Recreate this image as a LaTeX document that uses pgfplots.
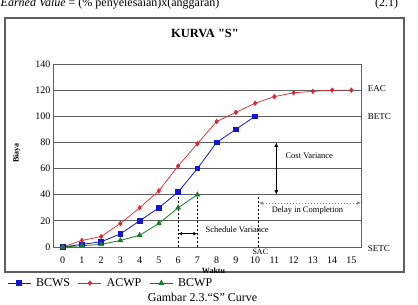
\documentclass[border=0pt]{standalone}
\usepackage{fontspec}
\setmainfont{Liberation Serif}
% same face without TeX ligatures, so that " stays a straight quote
\newfontfamily\plainserif[Ligatures=ResetAll]{Liberation Serif}
\usepackage{pgfplots}
\pgfplotsset{compat=1.18}
\usetikzlibrary{arrows.meta}

\definecolor{bcws}{RGB}{20,20,215}
\definecolor{acwp}{RGB}{225,35,45}
\definecolor{bcwp}{RGB}{25,125,40}
\definecolor{frame}{RGB}{95,95,95}

\begin{document}
\begin{tikzpicture}[x=1pt,y=1pt]
\useasboundingbox (0,0) rectangle (418,305);
\clip (0,0) rectangle (418,305);

% equation line above the figure
\node[anchor=base west, inner sep=0pt, font=\fontsize{12}{14}\selectfont]
  at (0.5,298) {\textit{Earned Value} = (\% penyelesaian)x(anggaran)};
\node[anchor=base west, inner sep=0pt, font=\fontsize{12}{14}\selectfont]
  at (375,298) {(2.1)};

% chart frame and title
\draw[frame, line width=1.3pt] (5,33) rectangle (404,287);
\node[font=\plainserif\bfseries\fontsize{12.5}{14}\selectfont] at (205,272) {KURVA "S"};

\begin{axis}[
  at={(53pt,58pt)}, anchor=south west,
  scale only axis, width=308pt, height=183pt,
  xmin=-0.5, xmax=15.5, ymin=0, ymax=140,
  xtick={0,...,15}, ytick={0,20,...,140},
  ymajorgrids,
  grid style={frame, line width=0.8pt},
  axis line style={frame, line width=0.8pt},
  major tick length=0pt,
  tick label style={font=\fontsize{10}{12}\selectfont},
  xticklabel style={yshift=-6.5pt},
  yticklabel style={xshift=1pt},
  /pgf/number format/assume math mode=true,
  clip=false,
  legend columns=3,
  legend style={
    at={(axis description cs:-0.159,-0.197)}, anchor=west,
    draw=none, fill=none,
    font=\fontsize{12}{14}\selectfont,
    column sep=3pt,
    /tikz/every even column/.append style={column sep=6pt},
  },
  legend image code/.code={
    \draw[mark repeat=2, mark phase=2]
      plot coordinates {(0pt,0pt) (11.5pt,0pt) (23pt,0pt)};
  },
]
% planned value
\addplot[bcws, line width=0.8pt, mark=square*, mark size=2.3pt,
  mark options={fill=bcws}] coordinates {
  (0,0) (1,2) (2,4) (3,10) (4,20) (5,30) (6,42) (7,60) (8,80) (9,90) (10,100)
};
\addlegendentry{BCWS}
% actual cost
\addplot[acwp, line width=0.7pt, mark=diamond*, mark size=2.2pt,
  mark options={fill=acwp}] coordinates {
  (0,0) (1,5) (2,8) (3,18) (4,30) (5,43) (6,62) (7,79) (8,96) (9,103)
  (10,110) (11,115) (12,118) (13,119) (14,120) (15,120)
};
\addlegendentry{ACWP}
% earned value
\addplot[bcwp, line width=0.8pt, mark=triangle*, mark size=2.6pt,
  mark options={fill=bcwp}] coordinates {
  (0,0) (1,1) (2,2) (3,5) (4,9) (5,18) (6,30) (7,40)
};
\addlegendentry{BCWP}

% reference lines
\draw[black, line width=0.6pt, dash pattern=on 2pt off 2pt]
  (axis cs:6,0) -- (axis cs:6,42);
\draw[black, line width=0.6pt, dash pattern=on 2pt off 2pt]
  (axis cs:7,0) -- (axis cs:7,40);
\draw[black, line width=0.6pt, dash pattern=on 2pt off 2pt]
  (axis cs:10.15,0) -- (axis cs:10.15,38);

% schedule variance
\draw[black, line width=0.7pt, {Latex[length=4pt,width=3.5pt]}-{Latex[length=4pt,width=3.5pt]}]
  (axis cs:6,10.2) -- (axis cs:7,10.2);
\node[anchor=west, inner sep=0pt, font=\fontsize{8.5}{10}\selectfont]
  at (axis cs:7.42,13.2) {Schedule Variance};

% cost variance
\draw[black, line width=0.7pt, {Latex[length=4.5pt,width=4pt]}-{Latex[length=4.5pt,width=4pt]}]
  (axis cs:11.1,40) -- (axis cs:11.1,80);
\node[anchor=west, inner sep=0pt, font=\fontsize{8.5}{10}\selectfont]
  at (axis cs:11.57,69.8) {Cost Variance};

% delay in completion
\draw[gray, line width=0.6pt, dash pattern=on 1.5pt off 1.5pt,
  {Latex[length=4pt,width=3.5pt]}-{Latex[length=4pt,width=3.5pt]}]
  (axis cs:10.2,33.7) -- (axis cs:15.5,33.7);
\node[inner sep=0pt, font=\fontsize{8.5}{10}\selectfont]
  at (axis cs:12.72,28.3) {Delay in Completion};

% right-hand markers and axis names
\node[anchor=west, inner sep=0pt, font=\fontsize{9}{10}\selectfont] at (axis cs:15.85,121) {EAC};
\node[anchor=west, inner sep=0pt, font=\fontsize{9}{10}\selectfont] at (axis cs:15.85,100) {BETC};
\node[anchor=west, inner sep=0pt, font=\fontsize{9}{10}\selectfont] at (axis cs:15.85,-1.5) {SETC};
\node[inner sep=0pt, font=\fontsize{8}{9}\selectfont] at (axis cs:10.27,-3.9) {SAC};
\node[inner sep=0pt, font=\bfseries\fontsize{8}{10}\selectfont] at (axis cs:7.84,-18.3) {Waktu};
\node[inner sep=0pt, rotate=90, font=\bfseries\fontsize{8}{10}\selectfont] at (axis cs:-2.39,72) {Biaya};
\end{axis}

% caption
\node[font=\fontsize{12}{14}\selectfont] at (202.5,8) {Gambar 2.3.“S” Curve};
\end{tikzpicture}
\end{document}
